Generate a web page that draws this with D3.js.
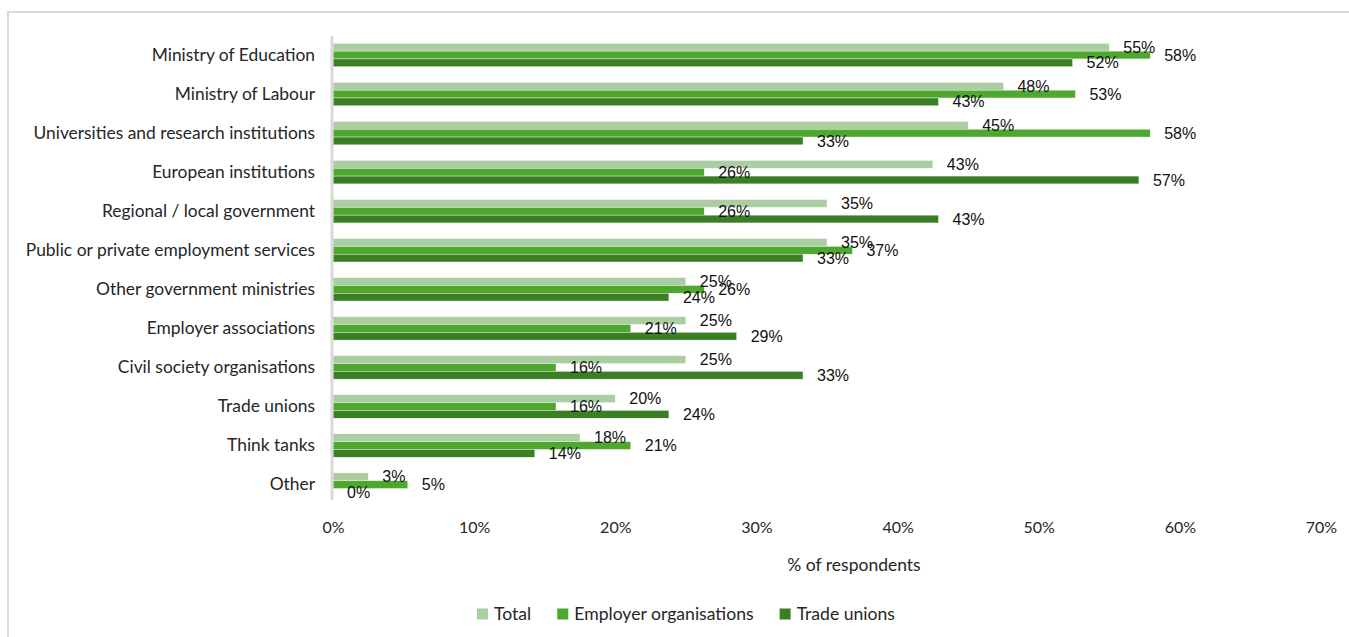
<!DOCTYPE html>
<html>
<head>
<meta charset="utf-8">
<script src="https://cdn.jsdelivr.net/npm/d3@7"></script>
<style>
  html, body { margin: 0; padding: 0; background: #fff; }
  svg { display: block; }
  .cat, .tick-label, .axis-title, .legend-label { font-family: Lato, "Open Sans", "Noto Sans", sans-serif; fill: #262626; }
  .val { font-family: "Liberation Sans", Arial, sans-serif; fill: #111; }
</style>
</head>
<body>
<svg id="chart" width="1349" height="637"></svg>
<script>
// Bodies consulted, top to bottom
const categories = [
  "Ministry of Education",
  "Ministry of Labour",
  "Universities and research institutions",
  "European institutions",
  "Regional / local government",
  "Public or private employment services",
  "Other government ministries",
  "Employer associations",
  "Civil society organisations",
  "Trade unions",
  "Think tanks",
  "Other"
];

const seriesNames = ["Total", "Employer organisations", "Trade unions"];

// Share of respondents (%)
const totalValues    = [55.0, 47.5, 45.0, 42.5, 35.0, 35.0, 25.0, 25.0, 25.0, 20.0, 17.5, 2.5];
const employerValues = [57.9, 52.6, 57.9, 26.3, 26.3, 36.8, 26.3, 21.1, 15.8, 15.8, 21.1, 5.3];
const tradeValues    = [52.4, 42.9, 33.3, 57.1, 42.9, 33.3, 23.8, 28.6, 33.3, 23.8, 14.3, 0.0];

const tickValues = [0, 10, 20, 30, 40, 50, 60, 70];

const colors = ["#abcda2", "#4ea72e", "#3b7f24"];

const seriesValues = [totalValues, employerValues, tradeValues];
const rows = categories.map((c, i) => ({
  category: c,
  values: seriesNames.map((s, k) => ({ series: s, value: seriesValues[k][i], k }))
}));

const svg = d3.select("#chart");

// chart frame
svg.append("path")
  .attr("d", "M8,637 V12 H1349")
  .attr("fill", "none")
  .attr("stroke", "#d9d9d9")
  .attr("stroke-width", 2);

const x = d3.scaleLinear().domain([0, 70]).range([333, 1321]);
const y = d3.scaleBand().domain(categories).range([35.5, 504.1]).paddingInner(0.4).paddingOuter(0.2);
const ySub = d3.scaleBand().domain(seriesNames).range([0, y.bandwidth()]);

// bars
const groups = svg.append("g").selectAll("g")
  .data(rows)
  .join("g")
  .attr("transform", d => `translate(0,${y(d.category)})`);

groups.selectAll("rect")
  .data(d => d.values)
  .join("rect")
  .attr("x", x(0))
  .attr("y", d => ySub(d.series))
  .attr("width", d => x(d.value) - x(0))
  .attr("height", ySub.bandwidth())
  .attr("fill", d => colors[d.k])
  .attr("stroke", "#ffffff")
  .attr("stroke-width", 0.4);

// value labels
groups.selectAll("text.val")
  .data(d => d.values)
  .join("text")
  .attr("class", "val")
  .attr("x", d => x(d.value) + 14)
  .attr("y", d => ySub(d.series) + ySub.bandwidth() / 2)
  .attr("dy", "0.35em")
  .attr("font-size", 16)
  .text(d => d3.format(".0f")(d.value) + "%");

// vertical axis line
svg.append("line")
  .attr("x1", x(0) - 1).attr("x2", x(0) - 1)
  .attr("y1", 36).attr("y2", 500)
  .attr("stroke", "#d9d9d9")
  .attr("stroke-width", 3);

// category labels
const yAxis = d3.axisLeft(y).tickSize(0).tickPadding(0);
const yAxisG = svg.append("g")
  .attr("transform", "translate(315,0)")
  .call(yAxis);
yAxisG.select(".domain").remove();
yAxisG.selectAll("text")
  .attr("class", "cat")
  .attr("font-size", 17.4)
  .attr("font-family", null)
  .attr("fill", null);

// horizontal tick labels
const xAxis = d3.axisBottom(x).tickValues(tickValues).tickSize(0).tickPadding(0)
  .tickFormat(d => d + "%");
const xAxisG = svg.append("g")
  .attr("transform", "translate(0,522)")
  .call(xAxis);
xAxisG.select(".domain").remove();
xAxisG.selectAll("text")
  .attr("class", "tick-label")
  .attr("font-size", 16)
  .attr("font-family", null)
  .attr("fill", null);

// axis title
svg.append("text")
  .attr("class", "axis-title")
  .attr("x", 854)
  .attr("y", 565)
  .attr("dy", "0.35em")
  .attr("text-anchor", "middle")
  .attr("font-size", 17.5)
  .text("% of respondents");

// legend
const legend = svg.append("g");
let cursor = 0;
seriesNames.forEach((name, k) => {
  const item = legend.append("g").attr("transform", `translate(${cursor},0)`);
  item.append("rect")
    .attr("x", 0).attr("y", -5.5)
    .attr("width", 11).attr("height", 11)
    .attr("fill", colors[k]);
  const t = item.append("text")
    .attr("class", "legend-label")
    .attr("x", 17)
    .attr("dy", "0.35em")
    .attr("font-size", 17.6)
    .text(name);
  cursor += 17 + t.node().getComputedTextLength() + 26;
});
const legendWidth = cursor - 26;
legend.attr("transform", `translate(${686 - legendWidth / 2},614)`);
</script>
</body>
</html>
